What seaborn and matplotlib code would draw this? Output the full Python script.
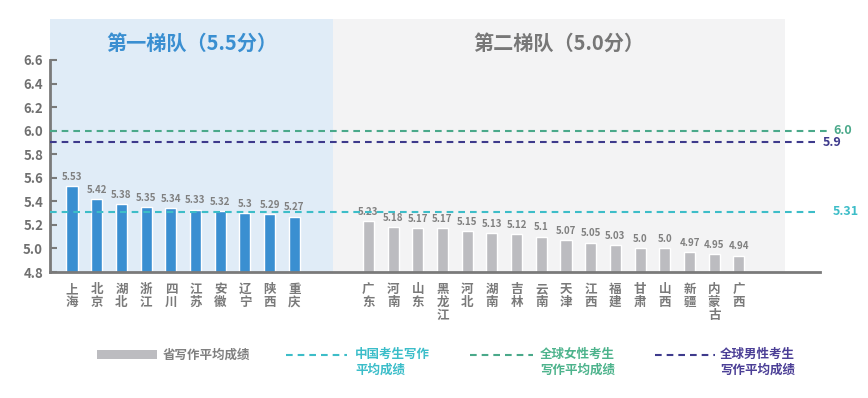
import matplotlib
matplotlib.use("Agg")
import matplotlib.pyplot as plt
import seaborn as sns
import pandas as pd
from matplotlib.lines import Line2D
from matplotlib.patches import Rectangle
import matplotlib.transforms as mtransforms

# ---------------- data ----------------
tier1_provinces = ["上海", "北京", "湖北", "浙江", "四川", "江苏", "安徽", "辽宁", "陕西", "重庆"]
tier1_scores = [5.53, 5.42, 5.38, 5.35, 5.34, 5.33, 5.32, 5.30, 5.29, 5.27]
tier2_provinces = ["广东", "河南", "山东", "黑龙江", "河北", "湖南", "吉林", "云南", "天津",
                   "江西", "福建", "甘肃", "山西", "新疆", "内蒙古", "广西"]
tier2_scores = [5.23, 5.18, 5.17, 5.17, 5.15, 5.13, 5.12, 5.10, 5.07,
                5.05, 5.03, 5.00, 5.00, 4.97, 4.95, 4.94]
tier_names = ["第一梯队（5.5分）", "第二梯队（5.0分）"]
china_avg = 5.31
global_female_avg = 6.0
global_male_avg = 5.9
y_ticks = [4.8, 5.0, 5.2, 5.4, 5.6, 5.8, 6.0, 6.2, 6.4, 6.6]
legend_labels = ["省写作平均成绩", "中国考生写作\n平均成绩", "全球女性考生\n写作平均成绩", "全球男性考生\n写作平均成绩"]

# ---------------- style ----------------
sns.set_style("white")
plt.rcParams["font.family"] = ["Noto Sans CJK SC", "DejaVu Sans"]
plt.rcParams["font.weight"] = "bold"

BLUE = "#3a8fd1"
GREY_BAR = "#bcbcc0"
BLUE_BG = "#e0ecf7"
GREY_BG = "#f3f3f4"
AXIS = "#7a7a7a"
CYAN = "#3dbdc8"
GREEN = "#4aa98a"
PURPLE = "#3e3a8c"

df = pd.DataFrame({
    "province": tier1_provinces + tier2_provinces,
    "score": tier1_scores + tier2_scores,
    "tier": [tier_names[0]] * len(tier1_provinces) + [tier_names[1]] * len(tier2_provinces),
})
gaps = ["_gap1", "_gap2"]
order = tier1_provinces + gaps + tier2_provinces

fig = plt.figure(figsize=(8.68, 3.98), dpi=100)
W, H = 868, 398
ax_left, ax_right, ax_top, ax_bottom = 50, 820, 19, 272
ax = fig.add_axes([ax_left / W, 1 - ax_bottom / H, (ax_right - ax_left) / W, (ax_bottom - ax_top) / H])

slot = 24.7
first_center = 72
x_lo = (ax_left - first_center) / slot
x_hi = (ax_right - first_center) / slot
split = (333 - first_center) / slot
grey_end = (785 - first_center) / slot

ax.axvspan(x_lo, split, color=BLUE_BG, zorder=0, lw=0)
ax.axvspan(split, grey_end, color=GREY_BG, zorder=0, lw=0)

sns.barplot(data=df, x="province", y="score", hue="tier", order=order,
            palette={tier_names[0]: BLUE, tier_names[1]: GREY_BAR}, saturation=1,
            dodge=False, width=0.45, legend=False, ax=ax, zorder=2)

ymin = 4.8
ymax = 4.8 + (ax_bottom - ax_top) / 117.8
ax.set_xlim(x_lo, x_hi)
ax.set_ylim(ymin, ymax)

# value labels
val_map = dict(zip(df["province"], df["score"]))


def fmt(v):
    s = f"{v:.2f}".rstrip("0")
    if s.endswith("."):
        s += "0"
    return s


for cont in ax.containers:
    labels = []
    for p in cont.patches:
        idx = int(round(p.get_x() + p.get_width() / 2))
        name = order[idx] if 0 <= idx < len(order) else None
        labels.append(fmt(val_map[name]) if name in val_map else "")
    ax.bar_label(cont, labels=labels, padding=3, fontsize=7, color="#808080", fontweight="bold")

# reference lines
dash = (3.2, 2.4)
ax.axhline(global_female_avg, xmin=0, xmax=1.011, color=GREEN, lw=1.5, ls=(0, dash), clip_on=False, zorder=3)
ax.axhline(global_male_avg, xmin=0, xmax=1.0, color=PURPLE, lw=1.5, ls=(0, dash), clip_on=False, zorder=3)
ax.axhline(china_avg, xmin=0, xmax=1.0, color=CYAN, lw=1.5, ls=(0, dash), clip_on=False, zorder=3)

trans = mtransforms.blended_transform_factory(ax.transAxes, ax.transData)
ax.text(1.017, global_female_avg, fmt(global_female_avg), transform=trans, color=GREEN,
        fontsize=9, fontweight="bold", va="center", ha="left")
ax.text(1.004, global_male_avg, fmt(global_male_avg), transform=trans, color=PURPLE,
        fontsize=9, fontweight="bold", va="center", ha="left")
ax.text(1.017, china_avg, fmt(china_avg), transform=trans, color=CYAN,
        fontsize=9, fontweight="bold", va="center", ha="left")

# tier titles
ax.text((x_lo + split) / 2, 6.74, tier_names[0], color=BLUE, fontsize=14.5,
        fontweight="bold", ha="center", va="center")
ax.text((split + grey_end) / 2, 6.74, tier_names[1], color="#777777", fontsize=14.5,
        fontweight="bold", ha="center", va="center")

# axes styling
for s in ["top", "right"]:
    ax.spines[s].set_visible(False)
ax.spines["left"].set_color(AXIS)
ax.spines["left"].set_linewidth(2)
ax.spines["left"].set_bounds(4.8, 6.6)
ax.spines["bottom"].set_color(AXIS)
ax.spines["bottom"].set_linewidth(2)
ax.set_yticks(y_ticks)
ax.set_yticklabels([f"{t:.1f}" for t in y_ticks])
ax.tick_params(axis="y", direction="in", length=5, width=1.5, color=AXIS,
               labelcolor="#707070", labelsize=9.5, pad=5, left=True)
ax.set_xticks(range(len(order)))
ax.set_xticklabels(["" if o in gaps else "\n".join(o) for o in order],
                   fontsize=9, color="#7a7a7a", fontweight="bold", linespacing=1.0)
ax.tick_params(axis="x", length=0, pad=8)
ax.set_xlabel("")
ax.set_ylabel("")
ax.grid(False)

# legend
ly = 1 - 355 / H
fig.add_artist(Rectangle((97 / W, 1 - 359 / H), 60 / W, 9 / H, transform=fig.transFigure,
                         color=GREY_BAR, lw=0))
fig.text(163 / W, ly, legend_labels[0], color="#808080", fontsize=9, fontweight="bold",
         va="center", ha="left")
items = [(286, 347, 355, CYAN, "#3bbdc9", legend_labels[1]),
         (470, 533, 540, GREEN, "#4db38c", legend_labels[2]),
         (655, 715, 720, PURPLE, "#4b3f96", legend_labels[3])]
for x0, x1, tx, lc, tc, lab in items:
    fig.add_artist(Line2D([x0 / W, x1 / W], [ly, ly], transform=fig.transFigure,
                          color=lc, lw=1.5, ls=(0, dash)))
    fig.text(tx / W, 1 - 348 / H, lab, color=tc, fontsize=9, fontweight="bold",
             va="top", ha="left", linespacing=1.25)

fig.savefig("out.png", dpi=100, facecolor="white")
